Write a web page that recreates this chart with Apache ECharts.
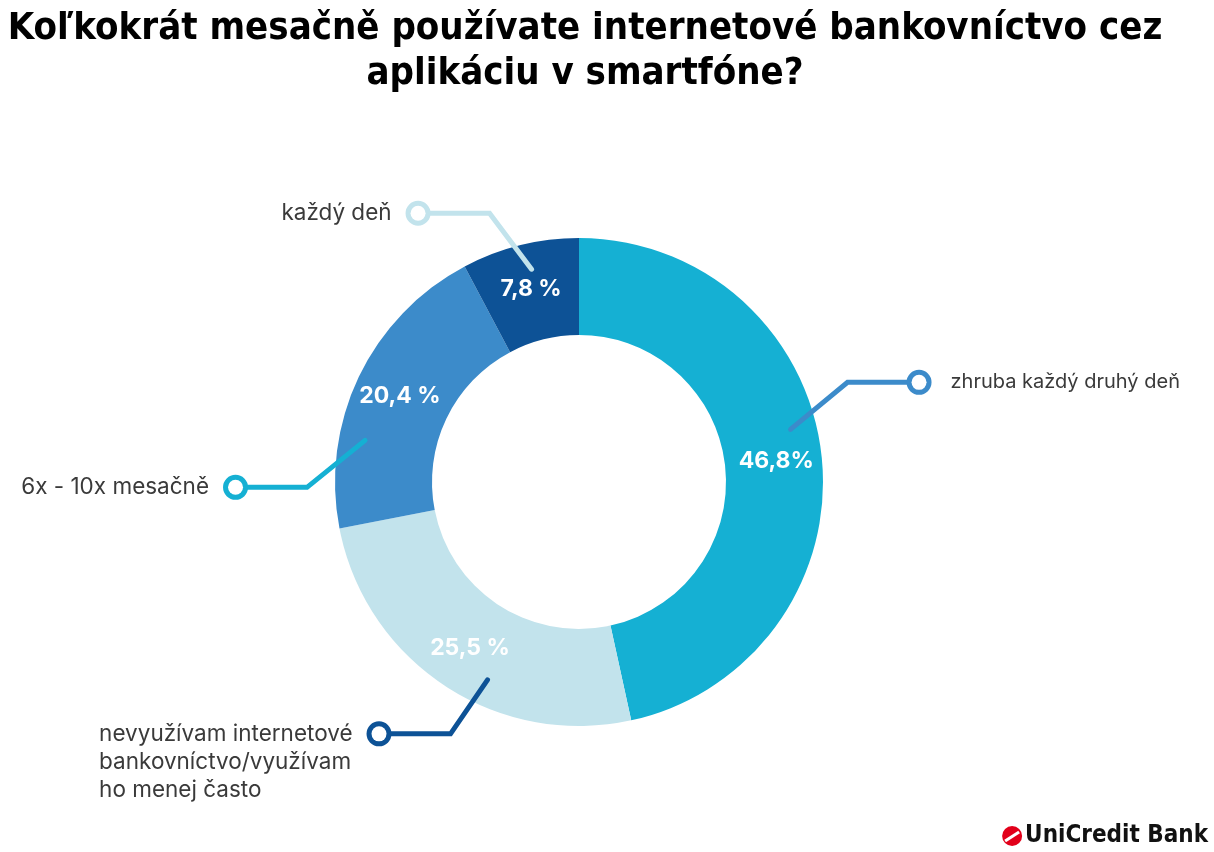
<!DOCTYPE html>
<html>
<head>
<meta charset="utf-8">
<script src="https://cdn.jsdelivr.net/npm/echarts@6/dist/echarts.min.js"></script>
<style>
html,body{margin:0;padding:0;background:#fff;}
#chart{width:1214px;height:852px;}
</style>
</head>
<body>
<div id="chart"></div>
<script>
// ---- data ----
const titleText = 'Koľkokrát mesačně používate internetové bankovníctvo cez\naplikáciu v smartfóne?';
const categories = [
  'zhruba každý druhý deň',
  'nevyužívam internetové\nbankovníctvo/využívam\nho menej často',
  '6x - 10x mesačně',
  'každý deň'
];
const values = [46.8, 25.5, 20.4, 7.8];
const valueLabels = ['46,8%', '25,5 %', '20,4 %', '7,8 %'];
const brandText = 'UniCredit Bank';

// ---- styles ----
const sliceColors = ['#15B0D3', '#C2E3EC', '#3C8BCA', '#0D5296'];
const calloutColors = ['#3C8BCA', '#0D5296', '#15B0D3', '#C2E3EC'];
// callout shape: [anchor angle offset (deg), bend dx, bend dy]
const calloutShape = [[-7.8, 57, -47], [-8.5, -37, 54], [-14.5, -58, 47], [1.4, -42, -56]];
const calloutR = 218;
const hLen = 62;
const textFont = 'Inter, "Open Sans", sans-serif';

const chart = echarts.init(document.getElementById('chart'), null, {renderer: 'canvas'});

function calloutFormatter(p) {
  const i = p.dataIndex;
  const lines = categories[i].split('\n');
  const right = calloutShape[i][1] > 0;
  if (right) {
    return '{c' + i + '|}{gr|}{tr|' + lines[0] + '}' + lines.slice(1).map(l => '\n{tr|' + l + '}').join('');
  }
  return '{t|' + lines[0] + '}{g|}{c' + i + '|}' + lines.slice(1).map(l => '\n{t|' + l + '}').join('');
}

const rich = {
  t: {fontFamily: textFont, fontSize: 22.5, color: '#3a3a3a', lineHeight: 28, align: 'left'},
  tr: {fontFamily: textFont, fontSize: 20, color: '#3a3a3a', lineHeight: 28, align: 'left'},
  g: {width: 19, height: 16, align: 'left'},
  gr: {width: 24, height: 16, align: 'left'}
};
calloutColors.forEach((c, i) => {
  rich['c' + i] = {width: 15, height: 15, borderWidth: 5, borderColor: c, backgroundColor: '#fff', borderRadius: 8, align: 'left'};
});

function calloutLayout(params) {
  const i = params.dataIndex;
  const pts = params.labelLinePoints;
  if (!pts || pts.length < 2) return {};
  const p0 = pts[0], p1 = pts[1];
  let ux = p1[0] - p0[0], uy = p1[1] - p0[1];
  const len = Math.sqrt(ux * ux + uy * uy) || 1;
  ux /= len; uy /= len;
  const cx = p0[0] - calloutR * ux, cy = p0[1] - calloutR * uy;
  const th = Math.atan2(ux, -uy) + calloutShape[i][0] * Math.PI / 180;
  const s = [cx + calloutR * Math.sin(th), cy - calloutR * Math.cos(th)];
  const b = [s[0] + calloutShape[i][1], s[1] + calloutShape[i][2]];
  const right = calloutShape[i][1] > 0;
  const e = [b[0] + (right ? hLen : -hLen), b[1]];
  return {
    x: e[0] + (right ? 2 : -2),
    y: b[1] - 14,
    align: right ? 'left' : 'right',
    verticalAlign: 'top',
    labelLinePoints: [s, b, e]
  };
}

const option = {
  backgroundColor: '#ffffff',
  animation: false,
  title: {
    text: titleText,
    left: 580,
    top: 2,
    textAlign: 'center',
    textStyle: {
      fontFamily: '"Liberation Sans Narrow", "DejaVu Sans Condensed", sans-serif',
      fontWeight: 'bold',
      fontSize: 38,
      lineHeight: 45,
      color: '#000'
    }
  },
  series: [
    {
      type: 'pie',
      z: 2,
      center: [579, 482],
      radius: [147, 244],
      startAngle: 90,
      clockwise: true,
      avoidLabelOverlap: false,
      silent: true,
      itemStyle: {borderWidth: 0},
      label: {
        show: true,
        position: 'inside',
        color: '#fff',
        fontFamily: textFont,
        fontWeight: 'bold',
        fontSize: 23,
        formatter: p => valueLabels[p.dataIndex]
      },
      labelLine: {show: false},
      data: values.map((v, i) => ({value: v, name: categories[i], itemStyle: {color: sliceColors[i]}}))
    },
    {
      type: 'pie',
      z: 5,
      zlevel: 1,
      center: [579, 482],
      radius: [0, calloutR],
      startAngle: 90,
      clockwise: true,
      avoidLabelOverlap: false,
      silent: true,
      itemStyle: {color: 'rgba(0,0,0,0)', borderWidth: 0},
      label: {
        show: true,
        position: 'outer',
        alignTo: 'none',
        formatter: calloutFormatter,
        rich: rich
      },
      labelLine: {show: true, length: 20, length2: 10, smooth: false, lineStyle: {width: 5, cap: 'round'}},
      labelLayout: calloutLayout,
      data: values.map((v, i) => ({
        value: v, name: categories[i],
        labelLine: {lineStyle: {color: calloutColors[i], width: 5, cap: 'round'}}
      }))
    }
  ],
  graphic: [
    {
      type: 'group', right: 6, bottom: 4,
      children: [
        {type: 'circle', shape: {cx: 10, cy: 12, r: 10}, style: {fill: '#E2001A'}},
        {type: 'line', shape: {x1: 3, y1: 17, x2: 17, y2: 8}, style: {stroke: '#fff', lineWidth: 3}},
        {type: 'text', x: 23, y: 0, style: {text: brandText, fontFamily: '"Liberation Sans Narrow", "DejaVu Sans Condensed", sans-serif', fontWeight: 'bold', fontSize: 24, fill: '#111'}}
      ]
    }
  ]
};
chart.setOption(option);
</script>
</body>
</html>
